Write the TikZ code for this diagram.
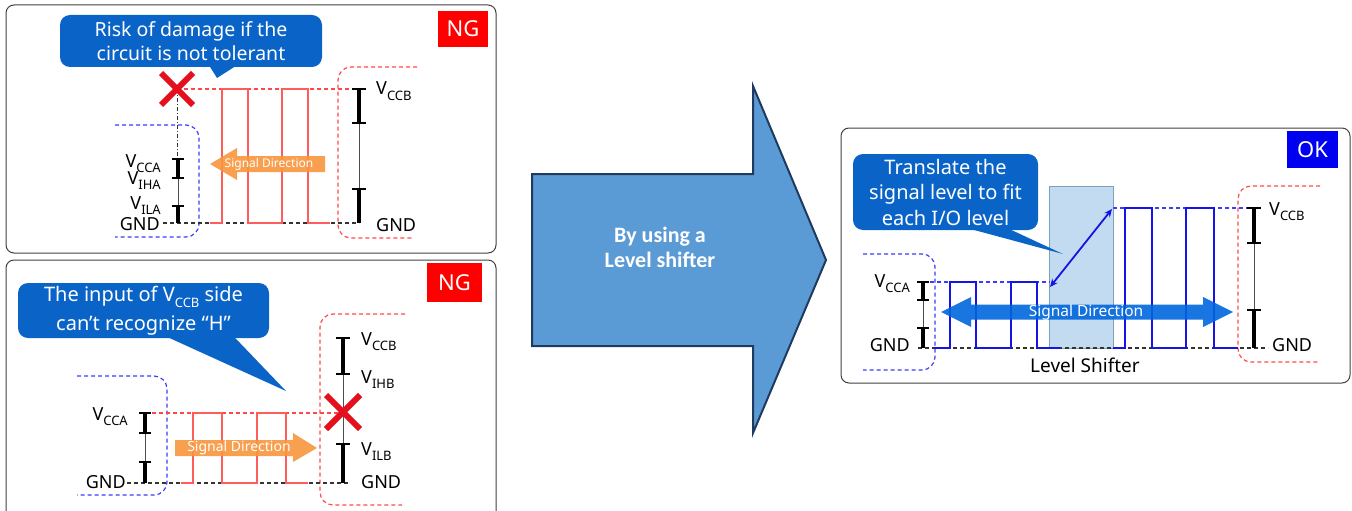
\documentclass[tikz,border=0pt]{standalone}
\usepackage{fontspec}
\setmainfont{Noto Sans}
\newfontfamily\arrowfont{Carlito}
\usetikzlibrary{arrows.meta, shapes.misc}
\definecolor{ngred}{HTML}{FF0000}
\definecolor{okblue}{HTML}{0000F0}
\definecolor{calloutblue}{HTML}{0A64C8}
\definecolor{sideblue}{HTML}{3C3CFF}
\definecolor{sidered}{HTML}{FF4848}
\definecolor{wavered}{HTML}{FF5C5C}
\definecolor{waveblue}{HTML}{1414E6}
\definecolor{sigorange}{HTML}{F7963C}
\definecolor{sigblue}{HTML}{0066DD}
\definecolor{lsfill}{HTML}{BDD7EE}
\definecolor{lsdraw}{HTML}{7DA0C0}
\definecolor{arrowfill}{HTML}{5B9BD5}
\definecolor{arrowdraw}{HTML}{1F3A5F}
\definecolor{xred}{HTML}{E4101E}
\newcommand\subtxt[1]{\raisebox{-0.3em}{\fontsize{13}{13}\selectfont #1}}

\begin{document}
\begin{tikzpicture}[x=1pt, y=-1pt,
  panel/.style={draw=black!75, line width=1pt, rounded corners=8pt},
  verdict/.style={text=white, font=\fontsize{22}{22}\selectfont, inner sep=0pt},
  callout/.style={fill=calloutblue, text=white, rounded corners=10pt,
                  align=center, inner sep=0pt},
  lvl/.style={font=\fontsize{18}{18}\selectfont, inner sep=0pt},
  sideA/.style={draw=sideblue, line width=1.2pt, dash pattern=on 4pt off 3pt, rounded corners=13pt},
  sideB/.style={draw=sidered, line width=1.2pt, dash pattern=on 4pt off 3pt, rounded corners=13pt},
  hiR/.style={draw=sidered, line width=1.2pt, dash pattern=on 4pt off 3pt},
  hiB/.style={draw=sideblue, line width=1.2pt, dash pattern=on 4pt off 3pt},
  gndline/.style={draw=black!80, line width=1.2pt, dash pattern=on 4pt off 3pt},
  waveR/.style={draw=wavered, line width=1.5pt},
  waveB/.style={draw=waveblue, line width=1.8pt},
  rail/.style={draw=black!70, line width=1pt},
  railthk/.style={draw=black, line width=3.4pt},
  tickmk/.style={draw=black, line width=1.2pt},
  xmark/.style={cross out, draw=xred, line width=6pt, minimum size=26pt, inner sep=0pt},
  sigorng/.style={fill=sigorange, fill opacity=0.9},
  sigtxt/.style={text=white, inner sep=0pt},
  lsarr/.style={{Stealth[length=8pt,width=7pt]}-{Stealth[length=8pt,width=7pt]},
                draw=waveblue, line width=1.8pt},
]
\useasboundingbox (0,0) rectangle (1352,511);

%% PANEL 1: VCCA side is not tolerant
\draw[panel] (6,5) rectangle (496,253);
\node[verdict, fill=ngred, minimum width=50pt, minimum height=36pt] (ng1) at (463,29) {NG};

\draw[sideA] (115,125) -- (199,125) -- (199,237) -- (115,237);
\draw[sideB] (417,67) -- (338,67) -- (338,238) -- (413,238);

\draw[hiR] (177,89) -- (359,89);
\draw[gndline] (163,223) -- (359,223);
\draw[draw=black!80, line width=1pt, dash pattern=on 4pt off 2pt on 1pt off 2pt] (177,89) -- (177,159);
\draw[waveR] (210,223) -- (222,223) -- (222,89) -- (248,89) -- (248,223) -- (282,223)
  -- (282,89) -- (308,89) -- (308,223) -- (330,223);

% left scale
\draw[rail] (178,159) -- (178,223);
\draw[railthk] (178,159) -- (178,178) (178,206) -- (178,223);
\foreach \y in {159,178,206} \draw[tickmk] (172,\y) -- (184,\y);
% right scale
\draw[rail] (359,89) -- (359,223);
\draw[railthk] (359,89) -- (359,123) (359,189) -- (359,223);
\foreach \y in {89,123,189} \draw[tickmk] (352,\y) -- (366,\y);

\node[lvl, anchor=base east] (vcca1) at (161,167) {V\subtxt{CCA}};
\node[lvl, anchor=base east] (viha1) at (161,184) {V\subtxt{IHA}};
\node[lvl, anchor=base east] (vila1) at (161,209) {V\subtxt{ILA}};
\node[lvl, anchor=base east] (gnda1) at (160,230) {GND};
\node[lvl, anchor=base west] (vccb1) at (376,95) {V\subtxt{CCB}};
\node[lvl, anchor=base west] (gndb1) at (376,231) {GND};

\fill[sigorng] (325,156) -- (237,156) -- (237,148) -- (210,164) -- (237,180)
  -- (237,172) -- (325,172) -- cycle;
\node[sigtxt, font=\fontsize{12}{12}\selectfont] (sig1) at (269,164) {Signal Direction};

\node[callout, minimum width=262pt, minimum height=52pt,
      font=\fontsize{19.5}{23.5}\selectfont] (co1) at (191,41)
  {Risk of damage if the\\circuit is not tolerant};
\coordinate (tip1) at (217,78);
\fill[calloutblue] ([xshift=18pt,yshift=2pt]co1.south) -- (tip1) -- ([xshift=46pt,yshift=2pt]co1.south) -- cycle;
\node[xmark] (x1) at (177,89) {};

%% PANEL 2: VCCB side cannot see "H"
\draw[panel] (6,260) rectangle (496,520);
\node[verdict, fill=ngred, minimum width=55pt, minimum height=39pt] (ng2) at (454.5,282.5) {NG};

\draw[sideA] (77,376) -- (167,376) -- (167,495) -- (77,495);
\draw[sideB] (405,314) -- (320,314) -- (320,505) -- (402,505);

\draw[hiR] (145,413) -- (343,413);
\draw[gndline] (127,483) -- (350,483);
\draw[waveR] (181,483) -- (193,483) -- (193,413) -- (222,413) -- (222,483) -- (257,483)
  -- (257,413) -- (286,413) -- (286,483) -- (308,483);

% left scale
\draw[rail] (145,413) -- (145,483);
\draw[railthk] (145,413) -- (145,433) (145,462) -- (145,483);
\foreach \y in {413,433,462} \draw[tickmk] (139,\y) -- (151,\y);
% right scale
\draw[rail] (343,338) -- (343,483);
\draw[railthk] (343,338) -- (343,374) (343,444) -- (343,483);
\foreach \y in {338,374,444} \draw[tickmk] (336,\y) -- (350,\y);

\node[lvl, anchor=base east] (vcca2) at (128,420) {V\subtxt{CCA}};
\node[lvl, anchor=base east] (gnda2) at (126,488) {GND};
\node[lvl, anchor=base west] (vccb2) at (361,345) {V\subtxt{CCB}};
\node[lvl, anchor=base west] (vihb2) at (361,383) {V\subtxt{IHB}};
\node[lvl, anchor=base west] (vilb2) at (361,455) {V\subtxt{ILB}};
\node[lvl, anchor=base west] (gndb2) at (361,488) {GND};

\fill[sigorng] (175,440) -- (293,440) -- (293,433) -- (317,448) -- (293,462)
  -- (293,456) -- (175,456) -- cycle;
\node[sigtxt, font=\fontsize{14}{14}\selectfont] (sig2) at (239,448) {Signal Direction};

\node[callout, minimum width=251pt, minimum height=55pt,
      font=\fontsize{20}{29}\selectfont] (co2) at (143.5,310.5)
  {The input of V\subtxt{CCB} side\\can’t recognize “H”};
\coordinate (tip2) at (286,391);
\fill[calloutblue] ([xshift=22pt,yshift=2pt]co2.south) -- (tip2) -- ([xshift=90pt,yshift=2pt]co2.south) -- cycle;
\node[xmark, minimum size=28pt] (x2) at (343,412) {};

%% BIG ARROW
\draw[fill=arrowfill, draw=arrowdraw, line width=2pt] (532,174) -- (753,174) -- (753,86)
  -- (826,260) -- (753,433) -- (753,346) -- (532,346) -- cycle;
\node[text=white, font=\arrowfont\bfseries\fontsize{22}{25}\selectfont, align=center] (using)
  at (660,247.5) {By using a\\Level shifter};

%% PANEL 3: with a level shifter
\draw[panel] (841,128) rectangle (1350,383);
\node[verdict, fill=okblue, minimum width=51pt, minimum height=37pt] (ok) at (1312.5,149.5) {OK};

\draw[sideA] (863,254) -- (935,254) -- (935,370) -- (863,370);
\draw[sideB] (1320,186) -- (1238,186) -- (1238,362) -- (1320,362);

\node[fill=lsfill, fill opacity=0.9, draw=lsdraw, line width=1pt,
      minimum width=64pt, minimum height=162pt, inner sep=0pt] (ls) at (1081,267) {};

\draw[hiB] (923,282) -- (1050,282);
\draw[hiB] (1113,208) -- (1254,208);
\draw[gndline] (918,348) -- (1268,348);
\draw[waveB] (935,348) -- (950,348) -- (950,282) -- (976,282) -- (976,348) -- (1011,348)
  -- (1011,282) -- (1037,282) -- (1037,348) -- (1060,348);
\draw[waveB] (1113,348) -- (1125,348) -- (1125,208) -- (1152,208) -- (1152,348) -- (1186,348)
  -- (1186,208) -- (1214,208) -- (1214,348) -- (1238,348);

% left scale
\draw[rail] (923,282) -- (923,348);
\draw[railthk] (923,282) -- (923,300) (923,328) -- (923,348);
\foreach \y in {282,300,328} \draw[tickmk] (917,\y) -- (929,\y);
% right scale
\draw[rail] (1254,208) -- (1254,348);
\draw[railthk] (1254,208) -- (1254,243) (1254,310) -- (1254,348);
\foreach \y in {208,243,310} \draw[tickmk] (1247,\y) -- (1261,\y);

\node[lvl, anchor=base east] (vcca3) at (910,287) {V\subtxt{CCA}};
\node[lvl, anchor=base east] (gnda3) at (910,351) {GND};
\node[lvl, anchor=base west] (vccb3) at (1269,215) {V\subtxt{CCB}};
\node[lvl, anchor=base west] (gndb3) at (1272,351) {GND};

\fill[sigblue, fill opacity=0.9] (941,312) -- (971,297) -- (971,304.5) -- (1203,304.5)
  -- (1203,297) -- (1233,312) -- (1203,327) -- (1203,319.5) -- (971,319.5) -- (971,327) -- cycle;
\node[sigtxt, font=\fontsize{15.5}{15.5}\selectfont] (sig3) at (1086,312) {Signal Direction};

\coordinate (lsin) at (1050,287);
\coordinate (lsout) at (1112,209);
\draw[lsarr] (lsin) -- (lsout);

\node[lvl, font=\fontsize{19}{19}\selectfont] (lsname) at (1085,365) {Level Shifter};

\node[callout, minimum width=185pt, minimum height=76pt,
      font=\fontsize{20}{25.5}\selectfont] (co3) at (945.5,192)
  {Translate the\\signal level to fit\\each I/O level};
\coordinate (tip3) at (1063,254);
\fill[calloutblue] ([xshift=22pt,yshift=2pt]co3.south) -- (tip3) -- ([xshift=62pt,yshift=2pt]co3.south) -- cycle;

\end{tikzpicture}
\end{document}
